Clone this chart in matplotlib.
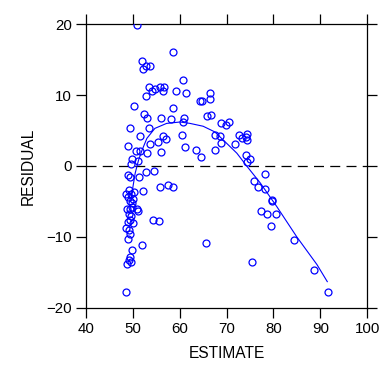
import matplotlib
matplotlib.use("Agg")
import matplotlib.pyplot as plt

plt.rcParams['font.family'] = ['Liberation Sans', 'DejaVu Sans']

estimate = [50.8, 58.6, 51.9, 52.7, 52.2, 53.7, 60.6, 53.5, 54.7, 55.7,
            56.7, 54.1, 56.4, 52.8, 59.2, 61.4, 64.7, 50.2, 58.6, 52.4,
            53.0, 55.9, 58.2, 60.9, 60.6, 49.4, 53.4, 51.5, 56.5, 57.1,
            53.7, 55.3, 60.5, 49.0, 61.1, 63.5, 50.7, 51.5, 53.0, 55.9,
            49.8, 51.0, 49.5, 64.6, 52.7, 54.5, 49.0, 49.4, 51.3, 57.4,
            55.8, 58.6, 52.2, 49.2, 48.5, 49.5, 49.0, 50.0, 49.4, 49.8,
            48.7, 49.4, 50.8, 51.2, 49.2, 49.5, 49.4, 54.4, 55.5, 48.5,
            49.1, 49.4, 48.9, 52.0, 49.8, 49.4, 49.2, 49.5, 48.7, 48.5,
            66.5, 66.5, 65.9, 66.6, 68.8, 69.9, 70.6, 67.5, 68.6, 68.8,
            71.8, 72.7, 73.2, 74.2, 74.4, 74.3, 67.5, 74.2, 74.9, 74.3,
            78.1, 75.9, 76.8, 78.3, 79.6, 79.8, 77.3, 78.7, 80.6, 79.4,
            65.6, 84.4, 75.4, 88.7, 91.7, 50.2, 49.9, 50.1, 49.0, 64.4]
residual = [19.8, 16.1, 14.8, 14.1, 13.6, 14.1, 12.1, 11.2, 10.8, 11.2,
            11.2, 10.5, 10.5, 9.9, 10.5, 10.3, 9.2, 8.5, 8.2, 7.3,
            6.8, 6.8, 6.6, 6.8, 6.2, 5.3, 5.4, 4.2, 4.2, 3.8,
            3.1, 3.4, 4.3, 2.8, 2.7, 2.3, 2.1, 2.1, 1.8, 1.9,
            1.0, 0.7, 0.3, 1.2, -0.85, -0.75, -1.3, -1.6, -1.6, -2.7,
            -3.0, -2.9, -3.5, -3.4, -3.9, -4.0, -4.4, -4.7, -5.0, -5.2,
            -6.0, -6.1, -6.1, -6.4, -6.7, -7.1, -7.6, -7.6, -7.8, -8.8,
            -9.0, -9.6, -10.3, -11.2, -11.9, -12.8, -13.2, -13.6, -13.8, -17.8,
            10.3, 9.4, 7.0, 7.2, 6.0, 5.8, 6.2, 4.4, 4.2, 3.2,
            3.1, 4.3, 3.9, 4.1, 4.5, 3.6, 2.3, 1.6, 1.0, 0.5,
            -1.2, -2.1, -2.9, -3.3, -4.8, -4.9, -6.4, -6.7, -6.7, -8.5,
            -10.8, -10.5, -13.6, -14.7, -17.7, -3.7, -5.8, -8.0, -7.9, 9.2]

fit_x = [49.7, 50.0, 50.5, 51.2, 52.0, 53.0, 54.7, 57.2, 60.1, 62.2,
         65.0, 67.5, 69.7, 72.2, 74.3, 77.2, 80.7, 85.0, 89.3, 91.5]
fit_y = [-4.5, -3.0, -1.0, 0.8, 2.3, 3.9, 5.3, 6.0, 6.2, 6.0,
         5.6, 4.8, 3.4, 1.8, 0.0, -2.4, -5.7, -10.0, -13.9, -16.3]

xticks = [40, 50, 60, 70, 80, 90, 100]
yticks = [-20, -10, 0, 10, 20]

fig = plt.figure(figsize=(3.84, 3.82), dpi=100)
ax = fig.add_axes([0.224, 0.194, 0.732, 0.743])

ax.axhline(0, color='black', lw=0.9, ls=(0, (8, 5)), zorder=1)
ax.plot(fit_x, fit_y, color='#0000FF', lw=0.8, zorder=2)
ax.plot(estimate, residual, ls='none', marker='o', markersize=5,
        markerfacecolor='none', markeredgecolor='#0000FF',
        markeredgewidth=0.9, zorder=3)

ax.set_xlim(40, 100)
ax.set_ylim(-20, 20)
ax.set_xticks(xticks)
ax.set_yticks(yticks)
ax.tick_params(direction='out', length=7, width=0.9, labelsize=10.8,
               top=True, right=True, pad=3, colors='black')
for s in ax.spines.values():
    s.set_linewidth(0.9)

ax.set_xlabel('ESTIMATE', fontsize=11.2, labelpad=7)
ax.set_ylabel('RESIDUAL', fontsize=11.2, labelpad=8)

fig.savefig('out.png', dpi=100)
